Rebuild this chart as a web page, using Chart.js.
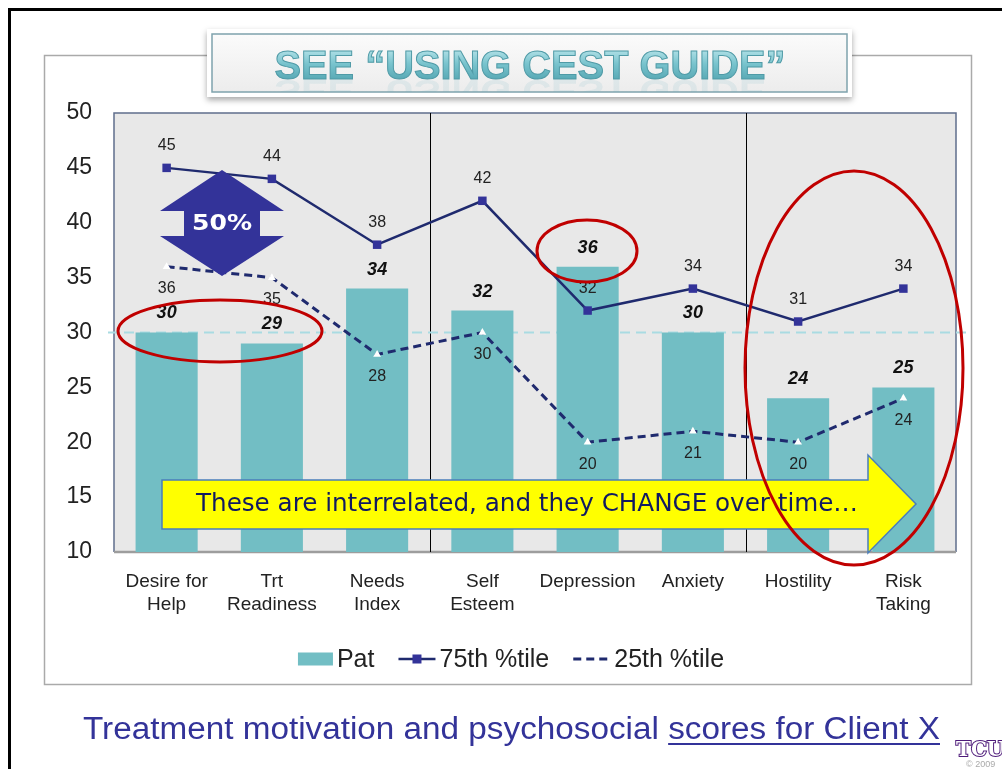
<!DOCTYPE html>
<html>
<head>
<meta charset="utf-8">
<title>Client X scores</title>
<script src="https://cdn.jsdelivr.net/npm/chart.js@4.4.1/dist/chart.umd.min.js"></script>
<style>
  html, body { margin: 0; padding: 0; background: #fff; }
  #wrap { width: 1002px; height: 769px; }
</style>
</head>
<body>
<div id="wrap"><canvas id="chart" width="1002" height="769"></canvas></div>
<script>
// chart data
const categories = [["Desire for", "Help"], ["Trt", "Readiness"], ["Needs", "Index"], ["Self", "Esteem"], "Depression", "Anxiety", "Hostility", ["Risk", "Taking"]];
const patScores = [30, 29, 34, 32, 36, 30, 24, 25];
const pct75 = [45, 44, 38, 42, 32, 34, 31, 34];
const pct25 = [36, 35, 28, 30, 20, 21, 20, 24];
const yMin = 10;
const yMax = 50;
const yStep = 5;
const referenceValue = 30;
// section dividers sit between these category pairs
const sectionBreaks = [[2, 3], [5, 6]];

const FONT = '"Liberation Sans", Arial, Helvetica, sans-serif';
const NAVY = "#1f2a6e";
const TEAL = "#72bec4";

// draws text squeezed/stretched to a given width
function fitText(ctx, text, cx, cy, width, font) {
  ctx.save();
  ctx.font = font;
  const w = ctx.measureText(text).width;
  ctx.translate(cx, cy);
  ctx.scale(width / w, 1);
  ctx.fillText(text, 0, 0);
  ctx.restore();
}

function ellipse(ctx, cx, cy, rx, ry) {
  ctx.save();
  ctx.strokeStyle = "#c00000";
  ctx.lineWidth = 3;
  ctx.beginPath();
  ctx.ellipse(cx, cy, rx, ry, 0, 0, Math.PI * 2);
  ctx.stroke();
  ctx.restore();
}

const slidePlugin = {
  id: "slide",
  beforeDraw(chart) {
    const ctx = chart.ctx;
    ctx.save();
    ctx.fillStyle = "#fff";
    ctx.fillRect(0, 0, chart.width, chart.height);
    // slide frame
    ctx.strokeStyle = "#000";
    ctx.lineWidth = 3;
    ctx.beginPath();
    ctx.moveTo(1002, 9.5);
    ctx.lineTo(9.5, 9.5);
    ctx.lineTo(9.5, 769);
    ctx.stroke();
    // chart box
    ctx.strokeStyle = "#aaaaaa";
    ctx.lineWidth = 1.5;
    ctx.strokeRect(44.5, 55.5, 927, 629);
    ctx.restore();
  },
  beforeDatasetsDraw(chart) {
    const { ctx, chartArea: a, scales: { x, y } } = chart;
    ctx.save();
    ctx.fillStyle = "#e8e8e8";
    ctx.fillRect(a.left, a.top, a.right - a.left, a.bottom - a.top);
    // frame
    ctx.strokeStyle = "#5f6d8c";
    ctx.lineWidth = 1.5;
    ctx.beginPath();
    ctx.moveTo(a.left, a.bottom);
    ctx.lineTo(a.left, a.top);
    ctx.lineTo(a.right, a.top);
    ctx.lineTo(a.right, a.bottom);
    ctx.stroke();
    ctx.strokeStyle = "#9d9d9d";
    ctx.lineWidth = 2.5;
    ctx.beginPath();
    ctx.moveTo(a.left, a.bottom);
    ctx.lineTo(a.right, a.bottom);
    ctx.stroke();
    // section dividers
    ctx.strokeStyle = "#000";
    ctx.lineWidth = 1;
    sectionBreaks.forEach(([i, j]) => {
      const px = Math.round((x.getPixelForValue(i) + x.getPixelForValue(j)) / 2) + 0.5;
      ctx.beginPath();
      ctx.moveTo(px, a.top);
      ctx.lineTo(px, a.bottom);
      ctx.stroke();
    });
    // reference line
    const ry = y.getPixelForValue(referenceValue);
    ctx.strokeStyle = "#a9dbe2";
    ctx.lineWidth = 2;
    ctx.setLineDash([10, 6]);
    ctx.beginPath();
    ctx.moveTo(a.left - 6, ry);
    ctx.lineTo(a.right + 14, ry);
    ctx.stroke();
    ctx.restore();
  },
  afterDatasetsDraw(chart) {
    const ctx = chart.ctx;
    const styles = [
      { font: "italic bold 18px " + FONT, dy: -19, color: "#111" },
      { font: "16px " + FONT, dy: -22, color: "#222" },
      { font: "16px " + FONT, dy: 22, color: "#222" },
    ];
    ctx.save();
    ctx.textAlign = "center";
    ctx.textBaseline = "middle";
    chart.data.datasets.forEach((ds, i) => {
      const meta = chart.getDatasetMeta(i);
      const st = styles[i];
      ctx.font = st.font;
      ctx.fillStyle = st.color;
      meta.data.forEach((el, k) => {
        ctx.fillText(String(ds.data[k]), el.x, el.y + st.dy);
      });
    });
    ctx.restore();
  },
  afterDraw(chart) {
    const ctx = chart.ctx;
    ctx.save();

    // blue double arrow with 50%
    ctx.fillStyle = "#333399";
    ctx.beginPath();
    ctx.moveTo(222, 170);
    ctx.lineTo(284, 211);
    ctx.lineTo(260, 211);
    ctx.lineTo(260, 236);
    ctx.lineTo(284, 236);
    ctx.lineTo(222, 276);
    ctx.lineTo(160, 236);
    ctx.lineTo(184, 236);
    ctx.lineTo(184, 211);
    ctx.lineTo(160, 211);
    ctx.closePath();
    ctx.fill();
    ctx.fillStyle = "#fff";
    ctx.textAlign = "center";
    ctx.textBaseline = "middle";
    fitText(ctx, "50%", 222, 224, 60, 'bold 22px "DejaVu Sans", Verdana, sans-serif');

    // yellow arrow
    ctx.fillStyle = "#ffff00";
    ctx.strokeStyle = "#4a7ebb";
    ctx.lineWidth = 1.5;
    ctx.beginPath();
    ctx.moveTo(162, 480);
    ctx.lineTo(868, 480);
    ctx.lineTo(868, 455);
    ctx.lineTo(916, 504);
    ctx.lineTo(868, 553);
    ctx.lineTo(868, 529);
    ctx.lineTo(162, 529);
    ctx.closePath();
    ctx.fill();
    ctx.stroke();
    ctx.fillStyle = "#111a62";
    fitText(ctx, "These are interrelated, and they CHANGE over time\u2026", 527, 505, 662, '24px "DejaVu Sans Condensed", "DejaVu Sans", Verdana, sans-serif');

    // red ellipses
    ellipse(ctx, 220, 331, 102, 31);
    ellipse(ctx, 587, 251, 50, 31);
    ellipse(ctx, 854, 368, 109, 197);

    // legend
    const order = [0, 1, 2];
    const lfont = "25px " + FONT;
    ctx.font = lfont;
    const items = order.map((i) => {
      const ds = chart.data.datasets[i];
      const mw = ds.type === "line" ? 37 : 35;
      return { ds, mw, tw: ctx.measureText(ds.label).width };
    });
    const gap = 4, space = 24;
    const total = items.reduce((s, it) => s + it.mw + gap + it.tw, 0) + space * (items.length - 1);
    let lx = 511 - total / 2;
    const ly = 659;
    items.forEach((it) => {
      const ds = it.ds;
      if (ds.type === "line") {
        ctx.save();
        ctx.strokeStyle = ds.borderColor;
        ctx.lineWidth = ds.borderWidth;
        ctx.setLineDash(ds.borderDash || []);
        ctx.beginPath();
        ctx.moveTo(lx, ly);
        ctx.lineTo(lx + it.mw, ly);
        ctx.stroke();
        ctx.restore();
        if (ds.pointStyle === "rect") {
          ctx.fillStyle = ds.pointBackgroundColor;
          ctx.fillRect(lx + it.mw / 2 - 4.5, ly - 4.5, 9, 9);
        }
      } else {
        ctx.fillStyle = ds.backgroundColor;
        ctx.fillRect(lx, ly - 6.5, it.mw, 13);
      }
      lx += it.mw + gap;
      ctx.fillStyle = "#222";
      ctx.font = lfont;
      ctx.textAlign = "left";
      ctx.textBaseline = "middle";
      ctx.fillText(ds.label, lx, ly + 1);
      lx += it.tw + space;
    });

    // title box
    ctx.save();
    ctx.shadowColor = "rgba(0,0,0,0.35)";
    ctx.shadowBlur = 6;
    ctx.shadowOffsetY = 3;
    ctx.fillStyle = "#fff";
    ctx.fillRect(207, 29, 645, 68);
    ctx.restore();
    const g = ctx.createLinearGradient(0, 34, 0, 93);
    g.addColorStop(0, "#fbfbfb");
    g.addColorStop(1, "#ececec");
    ctx.fillStyle = g;
    ctx.fillRect(212, 34, 635, 58);
    ctx.strokeStyle = "#7fa3ad";
    ctx.lineWidth = 1.5;
    ctx.strokeRect(212, 34, 635, 58);

    const title = "SEE \u201cUSING CEST GUIDE\u201d";
    const tfont = "bold 41px " + FONT;
    ctx.font = tfont;
    const tw = ctx.measureText(title).width;
    const sx = 511 / tw;
    // faint reflection
    ctx.save();
    ctx.beginPath();
    ctx.rect(212, 80, 635, 12);
    ctx.clip();
    ctx.globalAlpha = 0.12;
    ctx.translate(530, 80);
    ctx.scale(sx, -0.8);
    ctx.fillStyle = "#5fb0bc";
    ctx.textAlign = "center";
    ctx.textBaseline = "alphabetic";
    ctx.fillText(title, 0, 0);
    ctx.restore();
    // main title
    ctx.save();
    ctx.translate(530, 79);
    ctx.scale(sx, 1);
    const tg = ctx.createLinearGradient(0, -30, 0, 0);
    tg.addColorStop(0, "#b4e2e8");
    tg.addColorStop(0.5, "#78c3cd");
    tg.addColorStop(1, "#5aaab6");
    ctx.textAlign = "center";
    ctx.textBaseline = "alphabetic";
    ctx.lineWidth = 1;
    ctx.strokeStyle = "#4f9aa6";
    ctx.fillStyle = tg;
    ctx.fillText(title, 0, 0);
    ctx.strokeText(title, 0, 0);
    ctx.restore();

    // footer caption
    ctx.fillStyle = "#333399";
    ctx.textBaseline = "alphabetic";
    ctx.textAlign = "left";
    const p1 = "Treatment motivation and psychosocial ";
    const p2 = "scores for Client X";
    const ffont = "31px " + FONT;
    ctx.font = ffont;
    const w1 = ctx.measureText(p1).width;
    const w2 = ctx.measureText(p2).width;
    const fs = 857 / (w1 + w2);
    ctx.save();
    ctx.translate(83, 739);
    ctx.scale(fs, 1);
    ctx.fillText(p1 + p2, 0, 0);
    ctx.restore();
    ctx.strokeStyle = "#333399";
    ctx.lineWidth = 2;
    ctx.beginPath();
    ctx.moveTo(83 + w1 * fs, 744);
    ctx.lineTo(83 + (w1 + w2) * fs, 744);
    ctx.stroke();

    // logo
    ctx.font = 'bold 20px "DejaVu Serif", "Liberation Serif", serif';
    ctx.textAlign = "left";
    ctx.lineWidth = 2;
    ctx.strokeStyle = "#4d1979";
    ctx.fillStyle = "#fff";
    ctx.strokeText("TCU", 956, 756);
    ctx.fillText("TCU", 956, 756);
    ctx.font = "9px " + FONT;
    ctx.fillStyle = "#aaa";
    ctx.fillText("\u00a9 2009", 966, 767);

    ctx.restore();
  },
};

const ctx = document.getElementById("chart").getContext("2d");
new Chart(ctx, {
  type: "bar",
  data: {
    labels: categories,
    datasets: [
      {
        type: "bar",
        label: "Pat",
        data: patScores,
        backgroundColor: TEAL,
        barPercentage: 0.59,
        categoryPercentage: 1,
        order: 3,
      },
      {
        type: "line",
        label: "75th %tile",
        data: pct75,
        borderColor: NAVY,
        borderWidth: 2.5,
        pointStyle: "rect",
        pointRadius: 6,
        pointBackgroundColor: "#333399",
        pointBorderColor: "#333399",
        pointBorderWidth: 0,
        tension: 0,
        order: 1,
      },
      {
        type: "line",
        label: "25th %tile",
        data: pct25,
        borderColor: NAVY,
        borderWidth: 3,
        borderDash: [8, 5],
        pointStyle: "triangle",
        pointRadius: 4.5,
        pointBackgroundColor: "#ffffff",
        pointBorderColor: "#ffffff",
        pointBorderWidth: 0,
        tension: 0,
        order: 2,
      },
    ],
  },
  options: {
    responsive: false,
    animation: false,
    layout: { padding: { left: 44, right: 46, top: 113, bottom: 127 } },
    plugins: {
      legend: { display: false },
      tooltip: { enabled: false },
    },
    scales: {
      x: {
        grid: { display: false, drawTicks: false },
        border: { display: false },
        ticks: {
          color: "#222",
          font: { family: FONT, size: 19, lineHeight: 1.22 },
          padding: 18,
          maxRotation: 0,
          autoSkip: false,
        },
        afterFit(s) { s.height = 90; },
      },
      y: {
        min: yMin,
        max: yMax,
        grid: { display: false, drawTicks: false },
        border: { display: false },
        ticks: {
          stepSize: yStep,
          color: "#222",
          font: { family: FONT, size: 23 },
          padding: 22,
        },
        afterFit(s) { s.width = 70; },
      },
    },
  },
  plugins: [slidePlugin],
});
</script>
</body>
</html>
